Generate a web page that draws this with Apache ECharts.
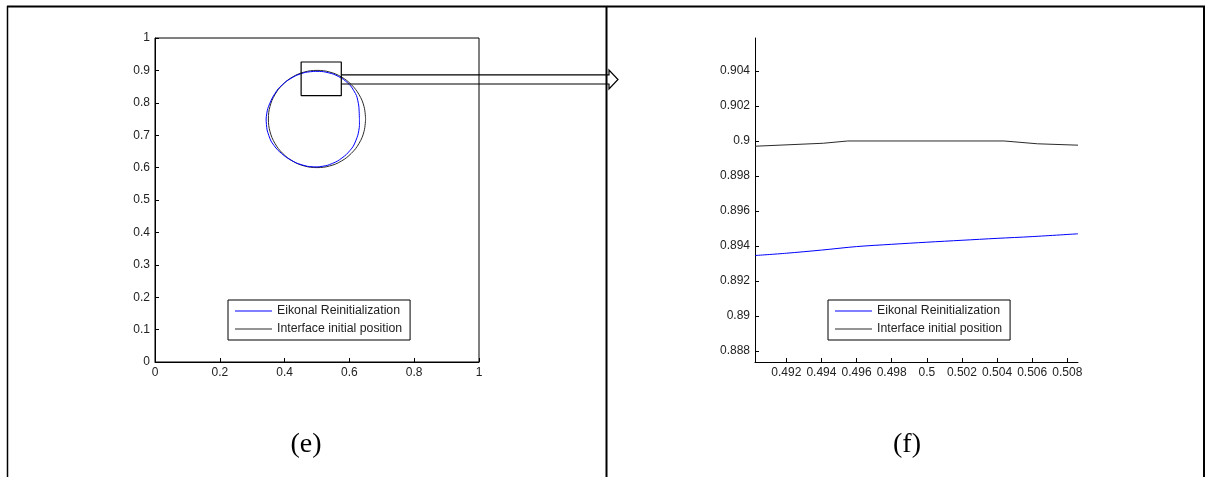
<!DOCTYPE html>
<html>
<head>
<meta charset="utf-8">
<script src="https://cdn.jsdelivr.net/npm/echarts@6/dist/echarts.min.js"></script>
<style>
html,body{margin:0;padding:0;background:#fff;}
#c{width:1206px;height:477px;}
</style>
</head>
<body>
<div id="c"></div>
<script>
// ---- data ----
const seriesNames = ['Eikonal Reinitialization', 'Interface initial position'];
const panelLabels = ['(e)', '(f)'];

// panel (e): full view
const eikonalCircle = [
  [0.631,0.750],[0.629,0.790],[0.622,0.822],[0.604,0.852],[0.582,0.872],[0.552,0.888],
  [0.520,0.896],[0.495,0.897],[0.465,0.894],[0.435,0.884],[0.405,0.866],[0.380,0.843],
  [0.362,0.815],[0.348,0.782],[0.343,0.750],[0.346,0.716],[0.358,0.682],[0.378,0.655],
  [0.405,0.632],[0.437,0.614],[0.470,0.604],[0.500,0.602],[0.532,0.607],[0.563,0.620],
  [0.590,0.640],[0.612,0.666],[0.626,0.700],[0.631,0.730],[0.631,0.750]
];
const initialCircle = [
  [0.650,0.750],[0.645,0.789],[0.630,0.825],[0.606,0.856],[0.575,0.880],[0.539,0.895],
  [0.500,0.900],[0.461,0.895],[0.425,0.880],[0.394,0.856],[0.370,0.825],[0.355,0.789],
  [0.350,0.750],[0.355,0.711],[0.370,0.675],[0.394,0.644],[0.425,0.620],[0.461,0.605],
  [0.500,0.600],[0.539,0.605],[0.575,0.620],[0.606,0.644],[0.630,0.675],[0.645,0.711],
  [0.650,0.750]
];
const zoomBox = [[0.451,0.822],[0.575,0.822],[0.575,0.926],[0.451,0.926],[0.451,0.822]];
const arrowShaftY = [0.886, 0.858];
const leftTicksX = [0, 0.2, 0.4, 0.6, 0.8, 1];
const leftTicksY = [0, 0.1, 0.2, 0.3, 0.4, 0.5, 0.6, 0.7, 0.8, 0.9, 1];

// panel (f): zoomed view
const eikonalZoom = [
  [0.49022,0.89345],[0.492,0.89358],[0.494,0.89376],[0.496,0.89396],[0.498,0.89409],
  [0.500,0.89421],[0.502,0.89432],[0.504,0.89443],[0.506,0.89453],[0.50861,0.89469]
];
const initialZoom = [
  [0.49022,0.89969],[0.4941,0.89986],[0.4955,0.89999],[0.5044,0.89999],
  [0.5063,0.89983],[0.50861,0.89975]
];
const zoomXRange = [0.490216, 0.50861];
const zoomYRange = [0.88737, 0.90587];
const zoomTicksX = [0.492, 0.494, 0.496, 0.498, 0.5, 0.502, 0.504, 0.506, 0.508];
const zoomTicksY = [0.888, 0.89, 0.892, 0.894, 0.896, 0.898, 0.9, 0.902, 0.904];

// ---- chart ----
const FONT = "'Liberation Sans', Arial, sans-serif";
const BLUE = '#0000ff', BLACK = '#2a2a2a';
const chart = echarts.init(document.getElementById('c'), null, {renderer: 'canvas'});

function axisCommon(extra) {
  return Object.assign({
    type: 'value',
    splitLine: {show: false},
    axisLine: {show: true, onZero: false, lineStyle: {color: '#000', width: 1}},
    axisTick: {show: true, inside: true, length: 4, lineStyle: {color: '#000'}},
    axisLabel: {color: '#222', fontFamily: FONT, fontSize: 12, margin: 5}
  }, extra);
}

function legendAt(left, top) {
  return {
    left: left, top: top, orient: 'vertical',
    data: seriesNames, selectedMode: false,
    icon: 'rect', itemWidth: 37, itemHeight: 1, itemGap: 4,
    padding: [4, 8, 4, 7],
    borderColor: '#000', borderWidth: 1, backgroundColor: '#fff',
    textStyle: {fontFamily: FONT, fontSize: 12.3, color: '#222', lineHeight: 14}
  };
}

const option = {
  animation: false,
  backgroundColor: '#fff',
  grid: [
    {left: 155, top: 38, width: 324, height: 324, show: true, borderColor: '#000', borderWidth: 1, backgroundColor: 'transparent'},
    {left: 755, top: 38, width: 323, height: 324, show: false}
  ],
  xAxis: [
    axisCommon({gridIndex: 0, min: leftTicksX[0], max: leftTicksX[leftTicksX.length-1], interval: 0.2}),
    axisCommon({gridIndex: 1, min: zoomXRange[0], max: zoomXRange[1],
      axisTick: {show: true, inside: true, length: 4, lineStyle: {color: '#000'}, customValues: zoomTicksX},
      axisLabel: {color: '#222', fontFamily: FONT, fontSize: 12, margin: 5, customValues: zoomTicksX}})
  ],
  yAxis: [
    axisCommon({gridIndex: 0, min: leftTicksY[0], max: leftTicksY[leftTicksY.length-1], interval: 0.1}),
    axisCommon({gridIndex: 1, min: zoomYRange[0], max: zoomYRange[1],
      axisTick: {show: true, inside: true, length: 4, lineStyle: {color: '#000'}, customValues: zoomTicksY},
      axisLabel: {color: '#222', fontFamily: FONT, fontSize: 12, margin: 5, customValues: zoomTicksY}})
  ],
  legend: [legendAt(228, 300), legendAt(828, 300)],
  series: [
    {name: seriesNames[1], type: 'line', xAxisIndex: 0, yAxisIndex: 0, data: initialCircle,
     showSymbol: false, symbol: 'none', smooth: 0.4, lineStyle: {color: BLACK, width: 1}, itemStyle: {color: BLACK}},
    {name: seriesNames[0], type: 'line', xAxisIndex: 0, yAxisIndex: 0, data: eikonalCircle,
     showSymbol: false, symbol: 'none', smooth: 0.2, lineStyle: {color: BLUE, width: 1}, itemStyle: {color: BLUE}},
    {name: 'zoombox', type: 'line', xAxisIndex: 0, yAxisIndex: 0, data: zoomBox,
     showSymbol: false, symbol: 'none', lineStyle: {color: '#000', width: 1.2}, silent: true},
    {name: seriesNames[0], type: 'line', xAxisIndex: 1, yAxisIndex: 1, data: eikonalZoom,
     showSymbol: false, symbol: 'none', smooth: 0.3, lineStyle: {color: BLUE, width: 1}, itemStyle: {color: BLUE}},
    {name: seriesNames[1], type: 'line', xAxisIndex: 1, yAxisIndex: 1, data: initialZoom,
     showSymbol: false, symbol: 'none', lineStyle: {color: BLACK, width: 1}, itemStyle: {color: BLACK}}
  ]
};
chart.setOption(option);

// annotation arrow from zoom box toward panel (f), anchored on data coords
const pTop = chart.convertToPixel({gridIndex: 0}, [zoomBox[1][0], arrowShaftY[0]]);
const pBot = chart.convertToPixel({gridIndex: 0}, [zoomBox[1][0], arrowShaftY[1]]);
const xHead = 609, xTip = 618;
const yMid = (pTop[1] + pBot[1]) / 2;

chart.setOption({
  graphic: [
    // frame
    {type: 'line', shape: {x1: 7, y1: 6.5, x2: 1205, y2: 6.5}, style: {stroke: '#000', lineWidth: 2}},
    {type: 'line', shape: {x1: 7.5, y1: 6, x2: 7.5, y2: 477}, style: {stroke: '#000', lineWidth: 1.5}},
    {type: 'line', shape: {x1: 606.5, y1: 6, x2: 606.5, y2: 477}, style: {stroke: '#000', lineWidth: 2}},
    {type: 'line', shape: {x1: 1204, y1: 6, x2: 1204, y2: 477}, style: {stroke: '#000', lineWidth: 2}},
    // arrow
    {type: 'polyline', z: 10, shape: {points: [
      [pTop[0], pTop[1]], [xHead, pTop[1]], [xHead, yMid - 9.5], [xTip, yMid],
      [xHead, yMid + 9.5], [xHead, pBot[1]], [pBot[0], pBot[1]]
    ]}, style: {stroke: '#000', lineWidth: 1.2, fill: null}},
    // panel labels
    {type: 'text', x: 306, y: 445, style: {text: panelLabels[0], fontFamily: "'Liberation Serif', 'Times New Roman', serif",
      fontSize: 28, fill: '#000', align: 'center', verticalAlign: 'middle'}},
    {type: 'text', x: 907, y: 445, style: {text: panelLabels[1], fontFamily: "'Liberation Serif', 'Times New Roman', serif",
      fontSize: 28, fill: '#000', align: 'center', verticalAlign: 'middle'}}
  ]
});
</script>
</body>
</html>
